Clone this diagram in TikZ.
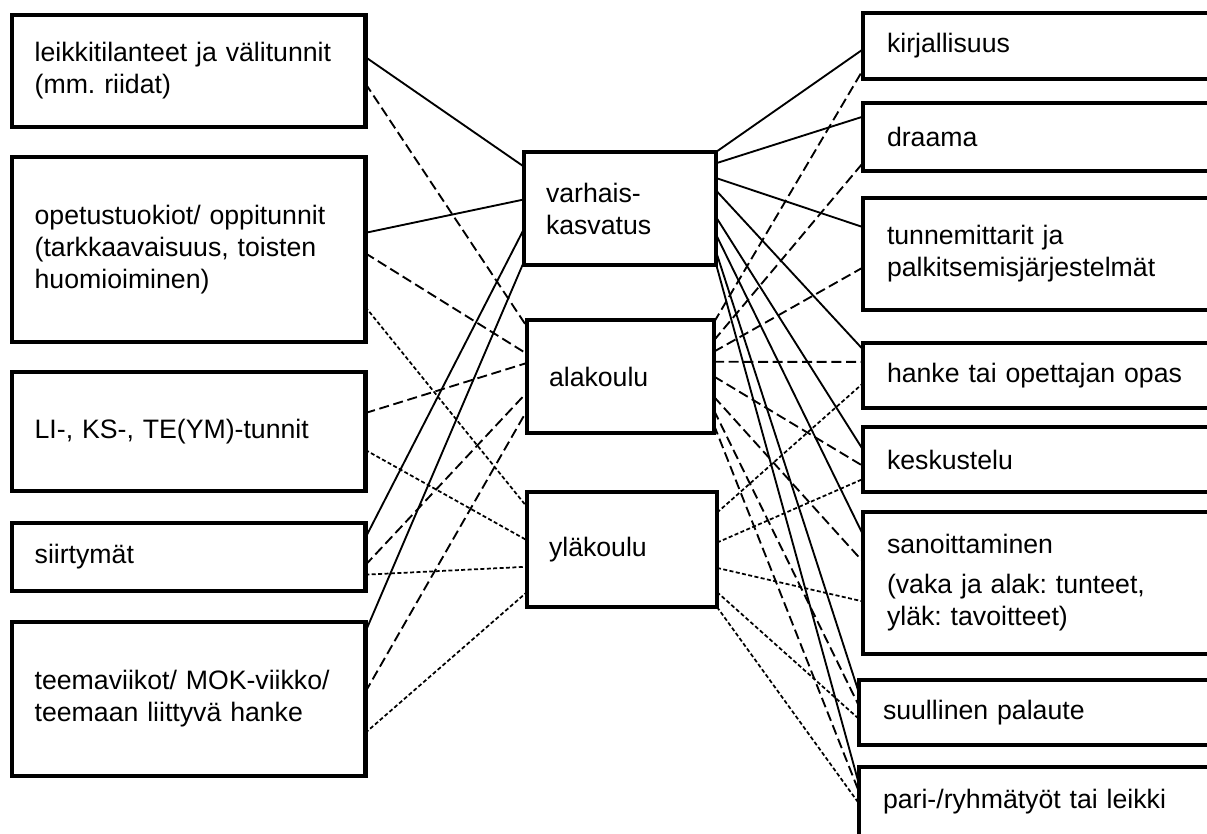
\documentclass[tikz,border=0pt]{standalone}
\usepackage{fontspec}
\setmainfont{Liberation Sans}
\usetikzlibrary{calc}
\frenchspacing

\begin{document}
\begin{tikzpicture}[x=0.75pt,y=-0.75pt,
	box/.style={draw,line width=3.6pt,rectangle,outer sep=0pt,inner ysep=0pt,
		anchor=north west,align=left,font=\fontsize{20}{24}\selectfont},
	lbox/.style={box,inner xsep=17pt,text width=231pt},
	mbox/.style={box,inner xsep=16.5pt},
	rbox/.style={box,inner xsep=18pt,text width=239pt},
	vaka/.style={line width=1.4pt},
	ala/.style={line width=1.4pt,dash pattern=on 7.5pt off 3.5pt},
	yla/.style={line width=1.3pt,dash pattern=on 3pt off 1.8pt}]
	\useasboundingbox (0,0) rectangle (1207,834);
	\clip (0,0) rectangle (1207,834);
	% left column
	\node[lbox,minimum height=84pt] (leikki) at (12,15) {leikkitilanteet ja välitunnit\\(mm. riidat)};
	\node[lbox,minimum height=138.75pt] (opetus) at (12,157) {opetustuokiot/ oppitunnit\\(tarkkaavaisuus, toisten\\huomioiminen)};
	\node[lbox,minimum height=89.25pt] (tunnit) at (12,372) {LI-, KS-, TE(YM)-tunnit};
	\node[lbox,minimum height=51pt] (siirtymat) at (12,523) {siirtymät};
	\node[lbox,minimum height=115.5pt] (teema) at (12,622) {teemaviikot/ MOK-viikko/\\teemaan liittyvä hanke};
	% middle column
	\node[mbox,text width=111pt,minimum height=84.75pt] (varhais) at (524,152) {varhais-\\kasvatus};
	\node[mbox,text width=107.25pt,minimum height=84.75pt] (alakoulu) at (527,320) {alakoulu};
	\node[mbox,text width=109.5pt,minimum height=86.25pt] (ylakoulu) at (527,492) {yläkoulu};
	% right column
	\node[rbox,minimum height=49.5pt] (kirj) at (863,13) {kirjallisuus};
	\node[rbox,minimum height=51pt] (draama) at (863,103) {draama};
	\node[rbox,minimum height=84pt] (tunne) at (863,198) {tunnemittarit ja\\palkitsemisjärjestelmät};
	\node[rbox,minimum height=48.75pt] (hanke) at (863,343) {hanke tai opettajan opas};
	\node[rbox,minimum height=48.75pt] (kesk) at (863,427) {keskustelu};
	\node[rbox,minimum height=106.5pt] (sanoit) at (863,512) {sanoittaminen\\[6pt](vaka ja alak: tunteet,\\yläk: tavoitteet)};
	\node[rbox,minimum height=48.75pt] (suull) at (859,680) {suullinen palaute};
	\node[rbox,minimum height=51.75pt] (pari) at (859,767) {pari-/ryhmätyöt tai leikki};
	% left connectors
	\foreach \src/\fs/\fd in {leikki/.375/.13,opetus/.41/.42,siirtymat/.22/.68,teema/.065/.97}
		\draw[vaka] ($(\src.north east)!\fs!(\src.south east)$) -- ($(varhais.north west)!\fd!(varhais.south west)$);
	\foreach \src/\fs/\fd in {leikki/.61/.06,opetus/.52/.30,tunnit/.345/.38,siirtymat/.62/.64,teema/.455/.80}
		\draw[ala] ($(\src.north east)!\fs!(\src.south east)$) -- ($(alakoulu.north west)!\fd!(alakoulu.south west)$);
	\foreach \src/\fs/\fd in {opetus/.81/.13,tunnit/.655/.42,siirtymat/.76/.65,teema/.72/.87}
		\draw[yla] ($(\src.north east)!\fs!(\src.south east)$) -- ($(ylakoulu.north west)!\fd!(ylakoulu.south west)$);
	% right connectors
	\foreach \dst/\fs/\fd in {kirj/0/.55,draama/.10/.20,tunne/.23/.26,hanke/.34/.10,kesk/.575/.35,sanoit/.73/.16,suull/.88/.20,pari/.99/.25}
		\draw[vaka] ($(varhais.north east)!\fs!(varhais.south east)$) -- ($(\dst.north west)!\fd!(\dst.south west)$);
	\foreach \dst/\fs/\fd in {kirj/.02/.86,draama/.18/.88,tunne/.28/.62,hanke/.37/.29,kesk/.50/.60,sanoit/.68/.35,suull/.80/.40,pari/.93/.36}
		\draw[ala] ($(alakoulu.north east)!\fs!(alakoulu.south east)$) -- ($(\dst.north west)!\fd!(\dst.south west)$);
	\foreach \dst/\fs/\fd in {hanke/.18/.62,kesk/.44/.80,sanoit/.66/.63,suull/.87/.60,pari/1/.53}
		\draw[yla] ($(ylakoulu.north east)!\fs!(ylakoulu.south east)$) -- ($(\dst.north west)!\fd!(\dst.south west)$);
\end{tikzpicture}
\end{document}
